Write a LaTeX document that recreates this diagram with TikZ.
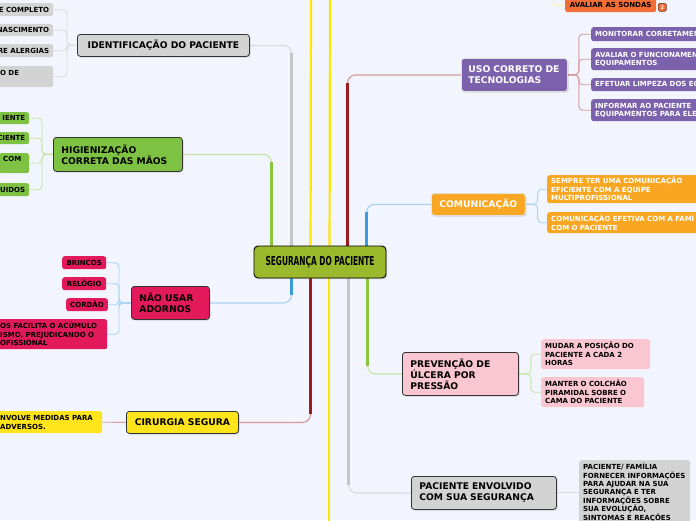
\documentclass[tikz,border=0pt]{standalone}
\usepackage{fontspec}
\setmainfont{DejaVu Sans}
\newfontfamily\condf{DejaVu Sans Condensed}
\usepackage{graphicx}
\usetikzlibrary{shadows,calc}
\pgfdeclarelayer{bottom}
\pgfdeclarelayer{background}
\pgfsetlayers{bottom,background,main}
\hyphenpenalty=10000
\exhyphenpenalty=10000
\definecolor{bgc}{HTML}{F2F5FD}
\definecolor{ngray}{HTML}{D3D3D3}
\definecolor{ngreen}{HTML}{7DC242}
\definecolor{ncrim}{HTML}{E21A5B}
\definecolor{nyel}{HTML}{FFE41C}
\definecolor{nsond}{HTML}{F26E36}
\definecolor{npurp}{HTML}{7C62AC}
\definecolor{norange}{HTML}{F9A723}
\definecolor{npink}{HTML}{F9C6D1}
\definecolor{ncenter}{HTML}{9CB82C}
\definecolor{tgreen}{HTML}{8CC63F}
\definecolor{lgreen}{HTML}{C6E3A3}
\definecolor{tgray}{HTML}{C6C6C6}
\definecolor{lgray}{HTML}{DCDCDC}
\definecolor{tyel}{HTML}{FFE600}
\definecolor{lyel}{HTML}{FFEF9A}
\definecolor{tred}{HTML}{9B1B1E}
\definecolor{lred}{HTML}{D49A9C}
\definecolor{tblue}{HTML}{3B9CDC}
\definecolor{lblue}{HTML}{A7D3F1}
\tikzset{
  mnode/.style={anchor=north west, rounded corners=3pt, line width=0.8pt, inner xsep=8pt, inner ysep=0pt,
    font=\fontsize{9.2}{11}\selectfont\bfseries,
    drop shadow={shadow xshift=1.2pt, shadow yshift=-1.2pt, opacity=0.3}},
  darkb/.style={draw=black!80},
  lightb/.style={draw=white!88!black},
  snode/.style={anchor=north west, rounded corners=2.5pt, inner xsep=4pt, inner ysep=0pt,
    font=\fontsize{7}{8.5}\selectfont\bfseries},
  brk/.style={line width=0.9pt, rounded corners=4pt},
  tlight/.style={line width=1.2pt, rounded corners=8pt},
  tdark/.style={line width=2.2pt, shorten >=8pt},
}
\begin{document}
\begin{tikzpicture}[x=1pt,y=-1pt]
\useasboundingbox (0,0) rectangle (696,520);
\begin{pgfonlayer}{bottom}
\fill[bgc] (0,0) rectangle (696,520);
\end{pgfonlayer}

% centre
\node[draw=black, line width=0.9pt, fill=ncenter, rounded corners=4pt, minimum width=132pt, minimum height=32pt,
  inner sep=0pt, drop shadow={shadow xshift=1.2pt, shadow yshift=-1.2pt, opacity=0.3}] (ctr) at (320,262)
  {\scalebox{0.67}[1]{\fontsize{12.3}{14}\selectfont\condf\bfseries SEGURANÇA DO PACIENTE}};

% identificacao
\node[mnode, darkb, fill=ngray, minimum width=172pt, minimum height=22pt] (ident) at (77,34) {IDENTIFICAÇÃO DO PACIENTE};
\node[snode, fill=ngray, text width=85pt, align=right, minimum height=13pt] (id1) at (-40,3) {E~COMPLETO};
\node[snode, fill=ngray, text width=85pt, align=right, minimum height=12pt] (id2) at (-40,24) {NASCIMENTO};
\node[snode, fill=ngray, text width=85pt, align=right, minimum height=13pt] (id3) at (-40,44) {RE~ALERGIAS};
\node[snode, fill=ngray, text width=49pt, align=left, minimum height=21pt] (id4) at (-4,66) {O~DE\\\phantom{X}};

% higienizacao
\node[mnode, darkb, fill=ngreen, text width=113pt, align=left, minimum height=34pt] (hig) at (53,137) {\mbox{HIGIENIZAÇÃO}\\\mbox{CORRETA DAS MÃOS}};
\node[snode, fill=ngreen, text width=61pt, align=right, minimum height=12pt] (h1) at (-40,112) {IENTE};
\node[snode, fill=ngreen, text width=61pt, align=right, minimum height=12pt] (h2) at (-40,132) {CIENTE};
\node[snode, fill=ngreen, text width=22pt, align=left, minimum height=20pt] (h3) at (-1,153) {COM\\\phantom{X}};
\node[snode, fill=ngreen, text width=61pt, align=right, minimum height=13pt] (h4) at (-40,183) {UIDOS};

% nao usar adornos
\node[mnode, darkb, fill=ncrim, text width=62pt, align=left, minimum height=33pt] (nao) at (131,286) {\mbox{NÃO USAR}\\\mbox{ADORNOS}};
\node[snode, fill=ncrim, minimum width=44pt, minimum height=13pt] (n1) at (62,256) {BRINCOS};
\node[snode, fill=ncrim, minimum width=44pt, minimum height=13pt] (n2) at (62,277) {RELÓGIO};
\node[snode, fill=ncrim, minimum width=40pt, minimum height=13pt] (n3) at (66,298) {CORDÃO};
\node[snode, fill=ncrim, text width=103pt, align=left, minimum height=30pt] (n4) at (-4,319) {\mbox{OS FACILITA O ACÚMULO}\\\mbox{ISMO, PREJUDICANDO O}\\\mbox{OFISSIONAL}};

% cirurgia segura
\node[mnode, darkb, fill=nyel, minimum width=112pt, minimum height=22pt] (cir) at (126,411) {CIRURGIA SEGURA};
\node[snode, fill=nyel, text width=98pt, align=left, minimum height=22pt] (c1) at (-4,411) {\mbox{NVOLVE MEDIDAS PARA}\\\mbox{ADVERSOS.}};

% avaliar as sondas
\node[snode, fill=nsond, minimum width=91pt, minimum height=14pt] (sondas) at (565,-2) {AVALIAR AS SONDAS};
\node[draw=black!55!nsond, fill=nsond, rounded corners=1.5pt, line width=0.6pt, minimum size=8pt, inner sep=0pt,
  text=white, font=\fontsize{5}{5}\selectfont\bfseries, anchor=north west] (badge) at (658,3) {2};

% uso correto de tecnologias
\node[mnode, lightb, fill=npurp, text=white, inner xsep=7pt, text width=92pt, align=left, minimum height=33pt] (uso) at (461,58) {\mbox{USO CORRETO DE}\\\mbox{TECNOLOGIAS}};
\node[snode, fill=npurp, text=white, text width=161pt, align=left, minimum height=14pt] (u1) at (591,27) {\mbox{MONITORAR CORRETAMEN}};
\node[snode, fill=npurp, text=white, text width=161pt, align=left, minimum height=22pt] (u2) at (591,48) {\mbox{AVALIAR O FUNCIONAMEN}\\\mbox{EQUIPAMENTOS}};
\node[snode, fill=npurp, text=white, text width=161pt, align=left, minimum height=13pt] (u3) at (591,78) {\mbox{EFETUAR LIMPEZA DOS EQ}};
\node[snode, fill=npurp, text=white, text width=161pt, align=left, minimum height=22pt] (u4) at (591,99) {\mbox{INFORMAR AO PACIENTE}\\\mbox{EQUIPAMENTOS PARA ELE}};

% comunicacao
\node[mnode, lightb, fill=norange, text=white, minimum width=91pt, minimum height=22pt] (com) at (431,193) {COMUNICAÇÃO};
\node[snode, fill=norange, text=white, text width=161pt, align=left, minimum height=28pt] (m1) at (547,175) {\mbox{SEMPRE TER UMA COMUNICAÇÃO}\\\mbox{EFICIENTE COM A EQUIPE}\\\mbox{MULTIPROFISSIONAL}};
\node[snode, fill=norange, text=white, text width=161pt, align=left, minimum height=21pt] (m2) at (547,212) {\mbox{COMUNICAÇÃO EFETIVA COM A FAMÍ}\\\mbox{COM O PACIENTE}};

% prevencao
\node[mnode, darkb, fill=npink, text width=100pt, align=left, minimum height=43pt] (prev) at (402,352) {\mbox{PREVENÇÃO DE}\\\mbox{ÚLCERA POR}\\\mbox{PRESSÃO}};
\node[snode, fill=npink, text width=101pt, align=left, minimum height=30pt] (p1) at (541,339) {\mbox{MUDAR A POSIÇÃO DO}\\\mbox{PACIENTE A CADA 2}\\\mbox{HORAS}};
\node[snode, fill=npink, text width=95pt, align=left, minimum height=30pt] (p2) at (541,377) {\mbox{MANTER O COLCHÃO}\\\mbox{PIRAMIDAL SOBRE O}\\\mbox{CAMA DO PACIENTE}};

% paciente envolvido
\node[mnode, darkb, fill=ngray, text width=129pt, align=left, minimum height=33pt] (pac) at (411,476) {\mbox{PACIENTE ENVOLVIDO}\\\mbox{COM SUA SEGURANÇA}};
\node[snode, fill=ngray, text width=103pt, align=left, inner ysep=3pt, font=\fontsize{7}{8.4}\selectfont\bfseries] (pac1) at (579,460)
  {\mbox{PACIENTE/ FAMÍLIA}\\\mbox{FORNECER INFORMAÇÕES}\\\mbox{PARA AJUDAR NA SUA}\\\mbox{SEGURANÇA E TER}\\\mbox{INFORMAÇÕES SOBRE}\\\mbox{SUA EVOLUÇÃO,}\\\mbox{SINTOMAS E REAÇÕES}};

% trunk start points
\coordinate (tG) at ($(ctr.north west)+(18,0)$);
\coordinate (tI) at ($(ctr.north west)+(38,0)$);
\coordinate (tY1) at ($(ctr.north west)+(57,0)$);
\coordinate (tY2) at ($(ctr.north west)+(76,0)$);
\coordinate (tR) at ($(ctr.north west)+(94,0)$);
\coordinate (tB) at ($(ctr.north west)+(113,0)$);
\coordinate (bB) at ($(ctr.south west)+(38,0)$);
\coordinate (bR) at ($(ctr.south west)+(57,0)$);
\coordinate (bY) at ($(ctr.south west)+(75,0)$);
\coordinate (bI) at ($(ctr.south west)+(95,0)$);
\coordinate (bG) at ($(ctr.south west)+(114,0)$);
\coordinate (topA) at (311,-10);
\coordinate (topB) at (330,-10);
\coordinate (botA) at (329,530);
\coordinate (sondsrc) at (553,-10);

\begin{pgfonlayer}{background}
% trunks
\draw[tlight, lgreen] (tG) |- (hig.east);
\draw[tdark, tgreen] (tG) -- (tG |- hig.east);
\draw[tlight, lgray] (tI) |- (ident.east);
\draw[tdark, tgray] (tI) -- (tI |- ident.east);
\draw[line width=2.2pt, tyel] (tY1 |- ctr.north) -- (topA);
\draw[line width=2.2pt, tyel] (tY2 |- ctr.north) -- (topB);
\draw[tlight, lred] (tR) |- (uso.west);
\draw[tdark, tred] (tR) -- (tR |- uso.west);
\draw[tlight, lblue] (tB) |- (com.west);
\draw[tdark, tblue] (tB) -- (tB |- com.west);
\draw[tlight, lblue] (bB) |- (nao.east);
\draw[tdark, tblue] (bB) -- (bB |- nao.east);
\draw[tlight, lred] (bR) |- (cir.east);
\draw[tdark, tred] (bR) -- (bR |- cir.east);
\draw[line width=2.2pt, tyel] (botA |- ctr.south) -- (botA);
\draw[tlight, lgray] (bI) |- (pac.west);
\draw[tdark, tgray] (bI) -- (bI |- pac.west);
\draw[tlight, lgreen] (bG) |- (prev.west);
\draw[tdark, tgreen] (bG) -- (bG |- prev.west);
% sub-branches
\foreach \s in {id1,id2,id3,id4} \draw[brk, lgray] (ident.west) -- ++(-10,0) |- (\s.east);
\foreach \s in {h1,h2,h3,h4} \draw[brk, lgreen] (hig.west) -- ++(-11,0) |- (\s.east);
\foreach \s in {n1,n2,n3,n4} \draw[brk, lblue] (nao.west) -- ++(-12,0) |- (\s.east);
\draw[brk, lred] (cir.west) -- (c1.east);
\draw[brk, lyel] (sondsrc) |- (sondas.west);
\foreach \s in {u1,u2,u3,u4} \draw[brk, lred] (uso.east) -- ++(11,0) |- (\s.west);
\foreach \s in {m1,m2} \draw[brk, lblue] (com.east) -- ++(12,0) |- (\s.west);
\foreach \s in {p1,p2} \draw[brk, lgreen] (prev.east) -- ++(12,0) |- (\s.west);
\draw[brk, lgray] (pac.east) -- (pac.east -| pac1.west);
\end{pgfonlayer}
\end{tikzpicture}
\end{document}
